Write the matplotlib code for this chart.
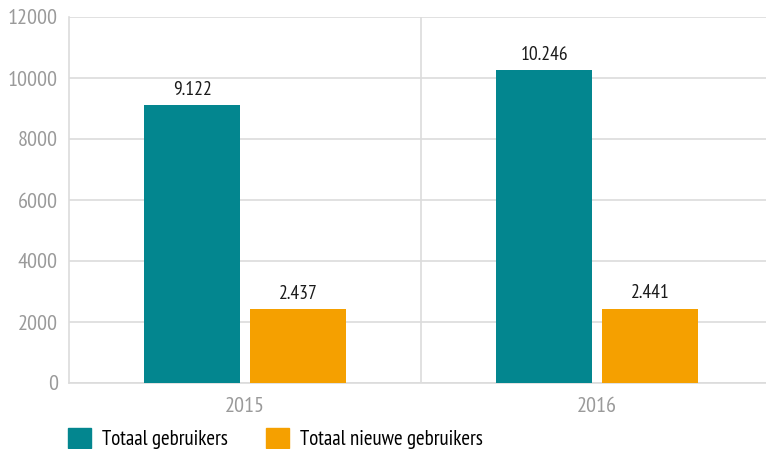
import matplotlib.pyplot as plt
from matplotlib import font_manager
from matplotlib.patches import Patch

years = ["2015", "2016"]
totaal = [9122, 10246]
nieuw = [2437, 2441]
series_names = ["Totaal gebruikers", "Totaal nieuwe gebruikers"]
yticks = [0, 2000, 4000, 6000, 8000, 10000, 12000]

teal = "#03868f"
orange = "#f5a000"
grid_c = "#dcdcdc"
tick_c = "#9a9a9a"

# pick a condensed sans (the original uses something like Myriad Condensed)
names = {f.name for f in font_manager.fontManager.ttflist}
fam = "DejaVu Sans"
for cand in ["PT Sans Narrow", "Fira Sans Condensed", "Roboto Condensed",
             "Archivo Narrow", "Open Sans Condensed", "Liberation Sans Narrow"]:
    if cand in names:
        fam = cand
        break
plt.rcParams["font.family"] = [fam, "DejaVu Sans"]

W, H = 766, 449
fig = plt.figure(figsize=(W / 100, H / 100), dpi=100)
# axes box in pixels: left 69, right 773 (past the edge), top 17, bottom 383
ax = fig.add_axes([69 / W, (H - 383) / H, (773 - 69) / W, (383 - 17) / H])

x = range(len(years))
bw = 0.2727
off = 0.15
b1 = ax.bar([i - off for i in x], totaal, width=bw, color=teal, zorder=3)
b2 = ax.bar([i + off for i in x], nieuw, width=bw, color=orange, zorder=3)


def fmt(v):
    return f"{v:,}".replace(",", ".")


for bars, vals in [(b1, totaal), (b2, nieuw)]:
    for r, v in zip(bars, vals):
        ax.text(r.get_x() + r.get_width() / 2, v + 200, fmt(v), ha="center", va="bottom",
                fontsize=14, color="#1a1a1a")

ax.set_xlim(-0.5, len(years) - 0.5)
ax.set_ylim(0, 12000)
ax.set_yticks(yticks)
ax.set_yticklabels([str(t) for t in yticks])
ax.set_xticks(list(x))
ax.set_xticklabels(years)
ax.tick_params(length=0, labelsize=16, colors=tick_c)
ax.tick_params(axis="y", pad=8)
ax.tick_params(axis="x", pad=10)
ax.grid(axis="y", color=grid_c, lw=1.2, zorder=0)
ax.axvline(0.5, color=grid_c, lw=1.2, zorder=0)
for s in ["top", "right"]:
    ax.spines[s].set_visible(False)
for s in ["left", "bottom"]:
    ax.spines[s].set_color(grid_c)
    ax.spines[s].set_linewidth(1.2)

handles = [Patch(color=teal), Patch(color=orange)]
fig.legend(handles, series_names, loc="lower left", bbox_to_anchor=(68 / W, 0),
           ncol=2, frameon=False, fontsize=15, handlelength=1.1, handleheight=1.1,
           handletextpad=0.55, columnspacing=1.8, borderpad=0, borderaxespad=0)

fig.savefig("out.png", dpi=100)
